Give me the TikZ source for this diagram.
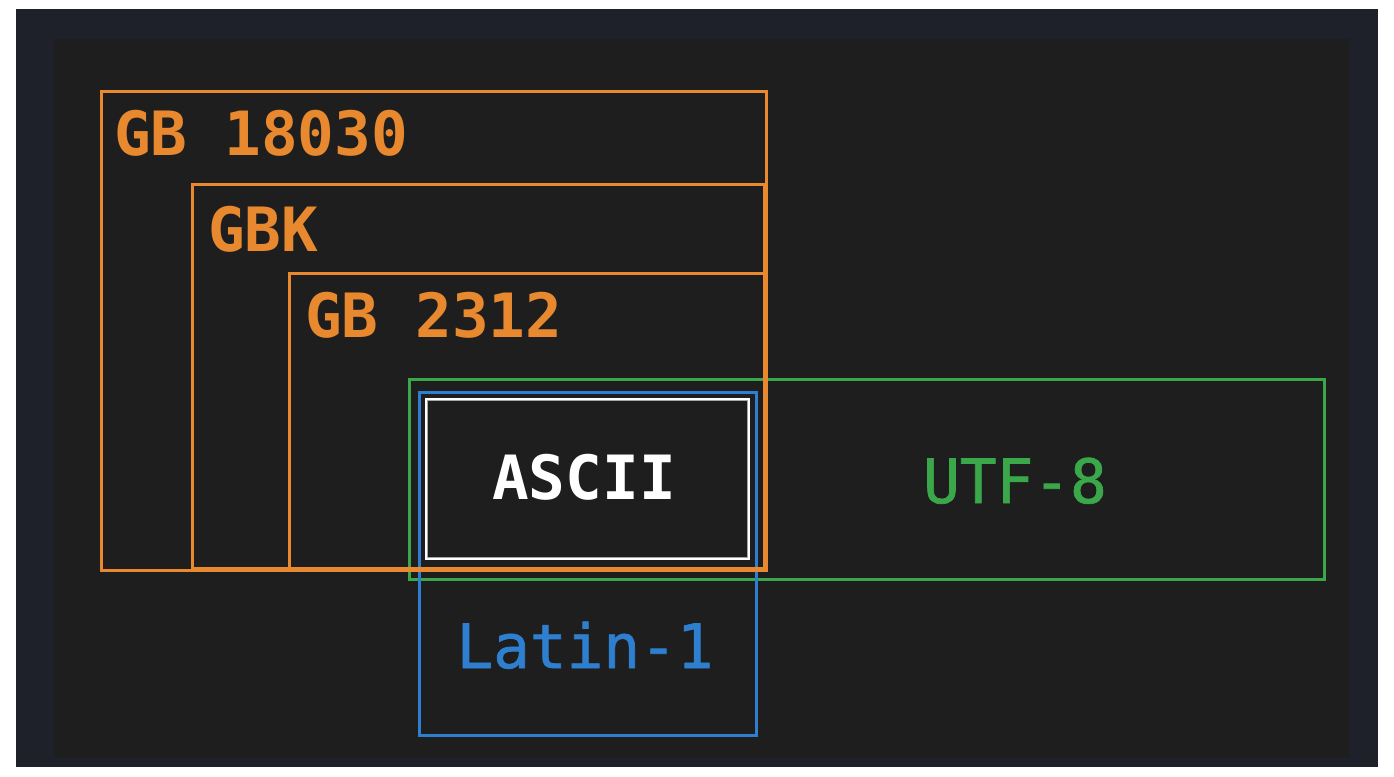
\documentclass[tikz,border=0pt]{standalone}
\usepackage{fontspec}
\setmonofont{DejaVu Sans Mono}
\newfontfamily\medmono[FakeBold=1.2]{DejaVu Sans Mono}
\definecolor{frame}{HTML}{1E2129}
\definecolor{panel}{HTML}{1E1E1E}
\definecolor{org}{HTML}{E8892F}
\definecolor{grn}{HTML}{3AA84A}
\definecolor{blu}{HTML}{2F7FD0}
\tikzset{
  box/.style={draw, line width=2.6pt, anchor=north west, inner sep=0pt},
  lbl/.style={font=\fontsize{61}{61}\selectfont\ttfamily\bfseries, inner sep=0pt},
  medlbl/.style={font=\fontsize{61}{61}\selectfont\medmono, inner sep=0pt},
}
\begin{document}
\begin{tikzpicture}[x=1pt,y=-1pt]
\useasboundingbox (0,0) rectangle (1394,776);
\fill[white] (0,0) rectangle (1394,776);
\fill[frame] (16,9) rectangle (1378,767);
\fill[panel] (54,39) rectangle (1350,758);
% green and blue underneath
\node[box, draw=grn, minimum width=915pt, minimum height=200pt] (utf) at (408,378) {};
\node[box, draw=blu, minimum width=337pt, minimum height=343pt] (latin) at (418,391) {};
% orange nested
\node[box, draw=org, minimum width=665pt, minimum height=479pt] (gb18030) at (100,90) {};
\node[box, draw=org, minimum width=572pt, minimum height=384pt] (gbk) at (191,183) {};
\node[box, draw=org, minimum width=475pt, minimum height=295pt] (gb2312) at (288,272) {};
% ascii
\node[box, draw=white, fill=panel, minimum width=322pt, minimum height=159pt] (ascii) at (425,398) {};
\draw[gray!70, line width=0.8pt] ([shift={(2.5pt,-2.5pt)}]ascii.north west) rectangle ([shift={(-2.5pt,2.5pt)}]ascii.south east);
% labels
\node[lbl, text=org, anchor=base west] (t18030) at (114,155) {GB 18030};
\node[lbl, text=org, anchor=base west] (tgbk) at (208,251) {GBK};
\node[lbl, text=org, anchor=base west] (t2312) at (305,337) {GB 2312};
\node[lbl, text=white, anchor=base] (tascii) at (584,499) {ASCII};
\node[medlbl, text=grn, anchor=base] (tutf) at (1015,503) {UTF-8};
\node[medlbl, text=blu, anchor=base] (tlatin) at (585,668) {Latin-1};
\end{tikzpicture}
\end{document}
